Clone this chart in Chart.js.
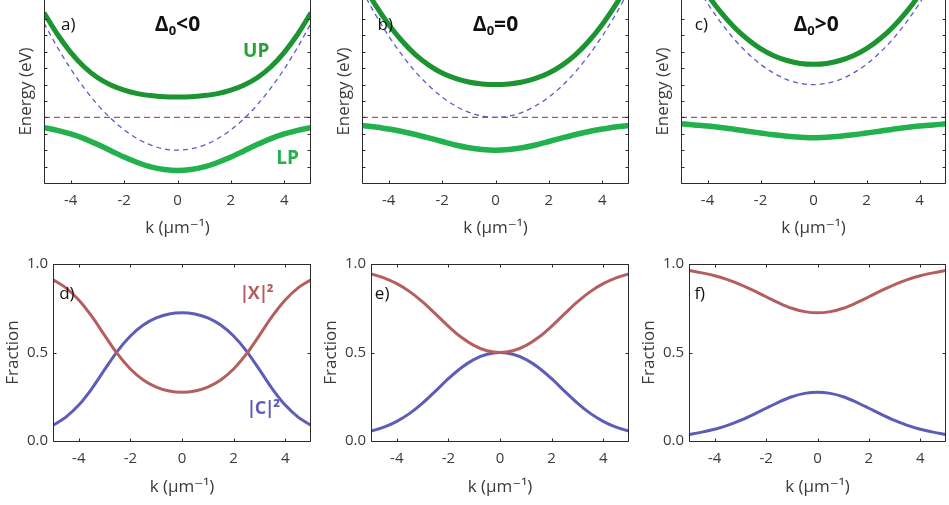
<!DOCTYPE html>
<html>
<head>
<meta charset="utf-8">
<script src="https://cdn.jsdelivr.net/npm/chart.js@4.4.0/dist/chart.umd.min.js"></script>
<style>
body { margin: 0; background: #fff; width: 949px; height: 505px; position: relative; overflow: hidden; }
canvas { position: absolute; }
</style>
</head>
<body>
<canvas id="panelA"></canvas>
<canvas id="panelB"></canvas>
<canvas id="panelC"></canvas>
<canvas id="panelD"></canvas>
<canvas id="panelE"></canvas>
<canvas id="panelF"></canvas>
<script>
// wavevector grid (um^-1)
var kValues = [-5, -4.5, -4, -3.5, -3, -2.5, -2, -1.5, -1, -0.5, 0, 0.5, 1, 1.5, 2, 2.5, 3, 3.5, 4, 4.5, 5];
var kTicks = [-4, -2, 0, 2, 4];
var energyTicks = [0, 1, 2, 3, 4, 5, 6, 7, 8, 9, 10];
var fractionTicks = [0, 0.5, 1];

// exciton level (flat), same in all three detunings
var excitonK = [-5, 5];
var excitonLevel = [4, 4];

// a) negative detuning
var photonA = [9.75, 8.28, 6.96, 5.80, 4.79, 3.94, 3.24, 2.70, 2.31, 2.08, 2.00, 2.08, 2.31, 2.70, 3.24, 3.94, 4.79, 5.80, 6.96, 8.28, 9.75];
var upA = [10.38, 9.07, 7.97, 7.09, 6.43, 5.97, 5.66, 5.45, 5.33, 5.26, 5.24, 5.26, 5.33, 5.45, 5.66, 5.97, 6.43, 7.09, 7.97, 9.07, 10.38];
var lpA = [3.37, 3.21, 2.99, 2.71, 2.36, 1.97, 1.58, 1.25, 0.98, 0.82, 0.76, 0.82, 0.98, 1.25, 1.58, 1.97, 2.36, 2.71, 2.99, 3.21, 3.37];

// b) zero detuning
var photonB = [11.75, 10.28, 8.96, 7.80, 6.79, 5.94, 5.24, 4.70, 4.31, 4.08, 4.00, 4.08, 4.31, 4.70, 5.24, 5.94, 6.79, 7.80, 8.96, 10.28, 11.75];
var upB = [12.24, 10.86, 9.67, 8.66, 7.83, 7.19, 6.71, 6.38, 6.16, 6.04, 6.00, 6.04, 6.16, 6.38, 6.71, 7.19, 7.83, 8.66, 9.67, 10.86, 12.24];
var lpB = [3.51, 3.42, 3.29, 3.14, 2.96, 2.75, 2.53, 2.32, 2.15, 2.04, 2.00, 2.04, 2.15, 2.32, 2.53, 2.75, 2.96, 3.14, 3.29, 3.42, 3.51];

// c) positive detuning
var photonC = [13.75, 12.28, 10.96, 9.80, 8.79, 7.94, 7.24, 6.70, 6.31, 6.08, 6.00, 6.08, 6.31, 6.70, 7.24, 7.94, 8.79, 9.80, 10.96, 12.28, 13.75];
var upC = [14.14, 12.74, 11.49, 10.42, 9.52, 8.78, 8.19, 7.76, 7.47, 7.29, 7.24, 7.29, 7.47, 7.76, 8.19, 8.78, 9.52, 10.42, 11.49, 12.74, 14.14];
var lpC = [3.61, 3.54, 3.47, 3.38, 3.28, 3.16, 3.05, 2.94, 2.85, 2.79, 2.76, 2.79, 2.85, 2.94, 3.05, 3.16, 3.28, 3.38, 3.47, 3.54, 3.61];

// Hopfield fractions of the lower polariton
var excitonFracD = [0.911, 0.865, 0.797, 0.705, 0.597, 0.492, 0.407, 0.345, 0.305, 0.283, 0.276, 0.283, 0.305, 0.345, 0.407, 0.492, 0.597, 0.705, 0.797, 0.865, 0.911];
var photonFracD = [0.089, 0.135, 0.203, 0.295, 0.403, 0.508, 0.593, 0.655, 0.695, 0.717, 0.724, 0.717, 0.695, 0.655, 0.593, 0.508, 0.403, 0.295, 0.203, 0.135, 0.089];
var excitonFracE = [0.944, 0.922, 0.889, 0.844, 0.786, 0.718, 0.648, 0.586, 0.539, 0.510, 0.500, 0.510, 0.539, 0.586, 0.648, 0.718, 0.786, 0.844, 0.889, 0.922, 0.944];
var photonFracE = [0.056, 0.078, 0.111, 0.156, 0.214, 0.282, 0.352, 0.414, 0.461, 0.490, 0.500, 0.490, 0.461, 0.414, 0.352, 0.282, 0.214, 0.156, 0.111, 0.078, 0.056];
var excitonFracF = [0.963, 0.950, 0.934, 0.912, 0.884, 0.851, 0.815, 0.780, 0.750, 0.731, 0.724, 0.731, 0.750, 0.780, 0.815, 0.851, 0.884, 0.912, 0.934, 0.950, 0.963];
var photonFracF = [0.037, 0.050, 0.066, 0.088, 0.116, 0.149, 0.185, 0.220, 0.250, 0.269, 0.276, 0.269, 0.250, 0.220, 0.185, 0.149, 0.116, 0.088, 0.066, 0.050, 0.037];

var FONT = "'Open Sans', 'DejaVu Sans', sans-serif";
var TEXT = '#3a3a3a';
var UP_COLOR = '#1c9431';
var LP_COLOR = '#22b14c';
var PHOTON_DASH = '#5b5bc6';
var EXCITON_DASH = '#b35457';
var X_COLOR = '#b55e5f';
var C_COLOR = '#5d5db9';

function pts(xs, ys) {
    return xs.map(function(x, i) { return {x: x, y: ys[i]}; });
}

function curve(xs, ys, color, width, dash) {
    return {
        data: pts(xs, ys),
        borderColor: color,
        borderWidth: width,
        borderDash: dash || [],
        cubicInterpolationMode: 'monotone',
        pointRadius: 0,
        fill: false
    };
}

// box with inward ticks (matlab style)
function framePlugin(withTop) {
    return {
        id: 'frame',
        afterDraw: function(chart) {
            var ctx = chart.ctx, a = chart.chartArea;
            var xs = chart.scales.x, ys = chart.scales.y;
            var L = Math.round(a.left) + 0.5, R = Math.round(a.right) - 0.5;
            var B = Math.round(a.bottom) + 0.5, T = Math.round(a.top) + 0.5;
            ctx.save();
            ctx.strokeStyle = '#2a2a2a';
            ctx.lineWidth = 1;
            ctx.beginPath();
            ctx.moveTo(L, a.top);
            ctx.lineTo(L, B);
            ctx.lineTo(R, B);
            ctx.lineTo(R, a.top);
            if (withTop) {
                ctx.moveTo(L, T);
                ctx.lineTo(R, T);
            }
            xs.ticks.forEach(function(t) {
                var px = Math.round(xs.getPixelForValue(t.value)) + 0.5;
                ctx.moveTo(px, B);
                ctx.lineTo(px, B - 3);
                if (withTop) {
                    ctx.moveTo(px, T);
                    ctx.lineTo(px, T + 3);
                }
            });
            ys.ticks.forEach(function(t) {
                var py = Math.round(ys.getPixelForValue(t.value)) + 0.5;
                ctx.moveTo(L, py);
                ctx.lineTo(L + 3, py);
                ctx.moveTo(R, py);
                ctx.lineTo(R - 3, py);
            });
            ctx.stroke();
            ctx.restore();
        }
    };
}

function notesPlugin(items) {
    return {
        id: 'notes',
        afterDraw: function(chart) {
            var ctx = chart.ctx;
            var xs = chart.scales.x, ys = chart.scales.y;
            items.forEach(function(n) {
                ctx.save();
                ctx.fillStyle = n.color;
                ctx.textBaseline = 'middle';
                ctx.textAlign = 'left';
                var gap = n.squeeze || 0;
                var widths = [], total = 0;
                n.parts.forEach(function(p) {
                    ctx.font = (n.bold ? 'bold ' : '') + p.size + 'px ' + FONT;
                    var w = ctx.measureText(p.text).width - gap;
                    widths.push(w);
                    total += w;
                });
                var px = xs.getPixelForValue(n.k);
                var py = ys.getPixelForValue(n.v);
                if (n.align === 'center') px -= total / 2;
                n.parts.forEach(function(p, i) {
                    ctx.font = (n.bold ? 'bold ' : '') + p.size + 'px ' + FONT;
                    ctx.fillText(p.text, px, py + (p.dy || 0));
                    px += widths[i];
                });
                ctx.restore();
            });
        }
    };
}

function delta(sign) {
    return [{text: 'Δ', size: 21}, {text: '0', size: 13, dy: 6}, {text: sign, size: 21}, {text: '0', size: 21}];
}

function absSquared(letter) {
    return [{text: '|', size: 18}, {text: letter, size: 18}, {text: '|', size: 18}, {text: '²', size: 18}];
}

function drawPanel(p) {
    var cv = document.getElementById(p.id);
    cv.width = p.right - p.left + p.yAxisW + 3;
    cv.height = p.height;
    cv.style.left = (p.left - p.yAxisW) + 'px';
    cv.style.top = p.top + 'px';

    new Chart(cv, {
        type: 'line',
        data: { datasets: p.datasets },
        options: {
            responsive: false,
            animation: false,
            devicePixelRatio: 1,
            layout: { padding: { top: p.padTop, right: 3, left: 0, bottom: 0 } },
            plugins: { legend: { display: false }, tooltip: { enabled: false } },
            scales: {
                x: {
                    type: 'linear', min: -5, max: 5,
                    afterBuildTicks: function(s) { s.ticks = kTicks.map(function(v) { return {value: v}; }); },
                    afterFit: function(s) { s.height = p.xAxisH; },
                    grid: { display: false, drawTicks: false },
                    border: { display: false },
                    ticks: { padding: 9, color: TEXT, font: { family: FONT, size: 15 }, maxRotation: 0,
                             callback: function(v) { return String(v); } },
                    title: { display: true, text: 'k (μm⁻¹)', color: TEXT, font: { family: FONT, size: 17 },
                             padding: { top: 0, bottom: p.titleBottom } }
                },
                y: {
                    type: 'linear', min: p.yMin, max: p.yMax,
                    afterBuildTicks: function(s) { s.ticks = p.yTicks.map(function(v) { return {value: v}; }); },
                    afterFit: function(s) { s.width = p.yAxisW; },
                    grid: { display: false, drawTicks: false },
                    border: { display: false },
                    ticks: { display: p.yLabels, padding: 5, color: TEXT, font: { family: FONT, size: 15 },
                             callback: function(v) { return v.toFixed(1); } },
                    title: { display: true, text: p.yTitle, color: TEXT, font: { family: FONT, size: 17 },
                             padding: { top: p.yTitlePad, bottom: 0 } }
                }
            }
        },
        plugins: [framePlugin(p.topBorder), notesPlugin(p.notes)]
    });
}

var topRow = { top: 0, height: 250, padTop: 0, xAxisH: 67, titleBottom: 12, yAxisW: 30, yTitlePad: 2,
               yMin: 0, yMax: 11.16, yTicks: energyTicks, yLabels: false, yTitle: 'Energy (eV)', topBorder: false };
var bottomRow = { top: 250, height: 255, padTop: 10, xAxisH: 64, titleBottom: 8, yAxisW: 50, yTitlePad: 0,
                  yMin: 0, yMax: 1, yTicks: fractionTicks, yLabels: true, yTitle: 'Fraction', topBorder: true };

function panel(row, extra) {
    var out = {};
    Object.keys(row).forEach(function(k) { out[k] = row[k]; });
    Object.keys(extra).forEach(function(k) { out[k] = extra[k]; });
    return out;
}

function energySets(up, lp, photon) {
    return [
        curve(kValues, up, UP_COLOR, 5),
        curve(kValues, lp, LP_COLOR, 5.5),
        curve(kValues, photon, PHOTON_DASH, 1.3, [5, 4]),
        curve(excitonK, excitonLevel, EXCITON_DASH, 1.3, [6, 4])
    ];
}

function fractionSets(xf, cf) {
    return [
        curve(kValues, xf, X_COLOR, 3),
        curve(kValues, cf, C_COLOR, 3)
    ];
}

drawPanel(panel(topRow, {
    id: 'panelA', left: 44, right: 311,
    datasets: energySets(upA, lpA, photonA),
    notes: [
        {parts: [{text: 'a)', size: 17}], k: -4.36, v: 9.63, color: '#111'},
        {parts: delta('<'), k: 0, v: 9.63, color: '#111', bold: true, align: 'center'},
        {parts: [{text: 'UP', size: 19}], k: 2.95, v: 8.0, color: '#27a03a', bold: true, align: 'center'},
        {parts: [{text: 'LP', size: 19}], k: 4.12, v: 1.46, color: LP_COLOR, bold: true, align: 'center'}
    ]
}));

drawPanel(panel(topRow, {
    id: 'panelB', left: 362, right: 629,
    datasets: energySets(upB, lpB, photonB),
    notes: [
        {parts: [{text: 'b)', size: 17}], k: -4.42, v: 9.63, color: '#111'},
        {parts: delta('='), k: 0, v: 9.63, color: '#111', bold: true, align: 'center'}
    ]
}));

drawPanel(panel(topRow, {
    id: 'panelC', left: 681, right: 946,
    datasets: energySets(upC, lpC, photonC),
    notes: [
        {parts: [{text: 'c)', size: 17}], k: -4.48, v: 9.63, color: '#111'},
        {parts: delta('>'), k: 0.1, v: 9.63, color: '#111', bold: true, align: 'center'}
    ]
}));

drawPanel(panel(bottomRow, {
    id: 'panelD', left: 53, right: 311,
    datasets: fractionSets(excitonFracD, photonFracD),
    notes: [
        {parts: [{text: 'd)', size: 17}], k: -4.76, v: 0.83, color: '#111'},
        {parts: absSquared('X'), k: 2.86, v: 0.83, color: X_COLOR, bold: true, align: 'center', squeeze: 1.5},
        {parts: absSquared('C'), k: 3.12, v: 0.18, color: C_COLOR, bold: true, align: 'center', squeeze: 1.5}
    ]
}));

drawPanel(panel(bottomRow, {
    id: 'panelE', left: 371, right: 629,
    datasets: fractionSets(excitonFracE, photonFracE),
    notes: [
        {parts: [{text: 'e)', size: 17}], k: -4.85, v: 0.83, color: '#111'}
    ]
}));

drawPanel(panel(bottomRow, {
    id: 'panelF', left: 689, right: 946,
    datasets: fractionSets(excitonFracF, photonFracF),
    notes: [
        {parts: [{text: 'f)', size: 17}], k: -4.79, v: 0.83, color: '#111'}
    ]
}));
</script>
</body>
</html>
